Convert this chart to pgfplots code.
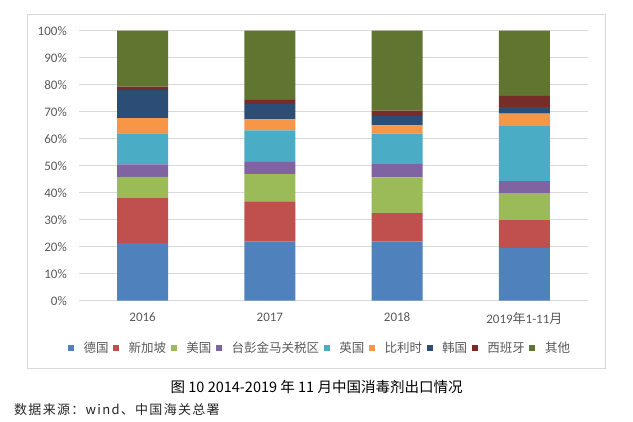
\documentclass[border=0pt]{standalone}
\usepackage{pgfplots}
\usepackage{pgfplotstable}
\pgfplotsset{compat=1.18}
\usepackage{fontspec}
\setmainfont{Carlito}
\newfontfamily\cjk{Noto Sans CJK SC}
\newfontfamily\cjkls[LetterSpace=10]{Noto Sans CJK SC}
\definecolor{cde}{HTML}{4F81BD}
\definecolor{csg}{HTML}{C0504D}
\definecolor{cus}{HTML}{9BBB59}
\definecolor{ctw}{HTML}{8064A2}
\definecolor{cuk}{HTML}{4BACC6}
\definecolor{cbe}{HTML}{F79646}
\definecolor{ckr}{HTML}{2C4D75}
\definecolor{ces}{HTML}{772C2A}
\definecolor{cot}{HTML}{5F7530}
\definecolor{gridc}{HTML}{D9D9D9}
\definecolor{txt}{HTML}{595959}
\pgfplotstableread{
x de sg us tw uk be kr es ot
0 21.3 16.7 7.9 4.6 11.5 5.6 10.5 1.2 20.7
1 21.9 14.9 10.1 4.5 11.7 4.1 5.7 1.5 25.6
2 21.9 10.5 13.3 4.9 11.3 3.0 3.5 2.0 29.6
3 19.6 10.2 9.9 4.6 20.4 4.6 2.4 4.2 24.1
}\datatable
\begin{document}
\begin{tikzpicture}
\path[use as bounding box] (0pt,0pt) rectangle (633pt,422pt);
\draw[gridc, line width=0.9pt] (27.5pt,53.3pt) rectangle (605.7pt,407.3pt);
\begin{axis}[
  at={(79pt,121.3pt)}, anchor=south west,
  scale only axis, width=509pt, height=270pt,
  ybar stacked, bar width=51pt,
  xmin=-0.5, xmax=3.5, ymin=0, ymax=100,
  xtick={0,1,2,3},
  xticklabels={2016,2017,2018,{2019{\cjk 年}1-11{\cjk 月}}},
  ytick={0,10,...,100},
  yticklabels={0\%,10\%,20\%,30\%,40\%,50\%,60\%,70\%,80\%,90\%,100\%},
  major tick length=0pt,
  axis line style={draw=none},
  ymajorgrids, grid style={gridc, line width=0.9pt},
  tick label style={font=\fontsize{13}{15}\selectfont, text=txt},
  yticklabel style={anchor=east, inner sep=0pt, xshift=-12pt},
  xticklabel style={anchor=north, inner sep=0pt, yshift=-12pt},
  legend columns=9,
  legend style={at={(axis description cs:0.4715,-0.174)}, anchor=center, draw=none, fill=none,
    font=\cjk\fontsize{12.5}{14}\selectfont, text=txt,
    nodes={inner sep=0pt},
    /tikz/every even column/.append style={column sep=4.5pt},
    /tikz/every odd column/.append style={column sep=9.7pt}},
  legend image code/.code={\fill[#1] (0pt,-3pt) rectangle (6pt,3pt);},
  legend cell align=left,
]
\addplot[fill=cde, draw=none] table[x=x, y=de] {\datatable};
\addlegendentry{德国}
\addplot[fill=csg, draw=none] table[x=x, y=sg] {\datatable};
\addlegendentry{新加坡}
\addplot[fill=cus, draw=none] table[x=x, y=us] {\datatable};
\addlegendentry{美国}
\addplot[fill=ctw, draw=none] table[x=x, y=tw] {\datatable};
\addlegendentry{台彭金马关税区}
\addplot[fill=cuk, draw=none] table[x=x, y=uk] {\datatable};
\addlegendentry{英国}
\addplot[fill=cbe, draw=none] table[x=x, y=be] {\datatable};
\addlegendentry{比利时}
\addplot[fill=ckr, draw=none] table[x=x, y=kr] {\datatable};
\addlegendentry{韩国}
\addplot[fill=ces, draw=none] table[x=x, y=es] {\datatable};
\addlegendentry{西班牙}
\addplot[fill=cot, draw=none] table[x=x, y=ot] {\datatable};
\addlegendentry{其他}
\end{axis}
\node[anchor=center, inner sep=0pt, font=\cjk\fontsize{14.5}{16}\selectfont] at (316.6pt,35.3pt) {图 10 2014-2019 年 11 月中国消毒剂出口情况};
\node[anchor=west, inner sep=0pt, font=\cjkls\fontsize{13}{15}\selectfont, text=black!85] at (14pt,12pt) {数据来源：wind、中国海关总署};
\end{tikzpicture}
\end{document}
